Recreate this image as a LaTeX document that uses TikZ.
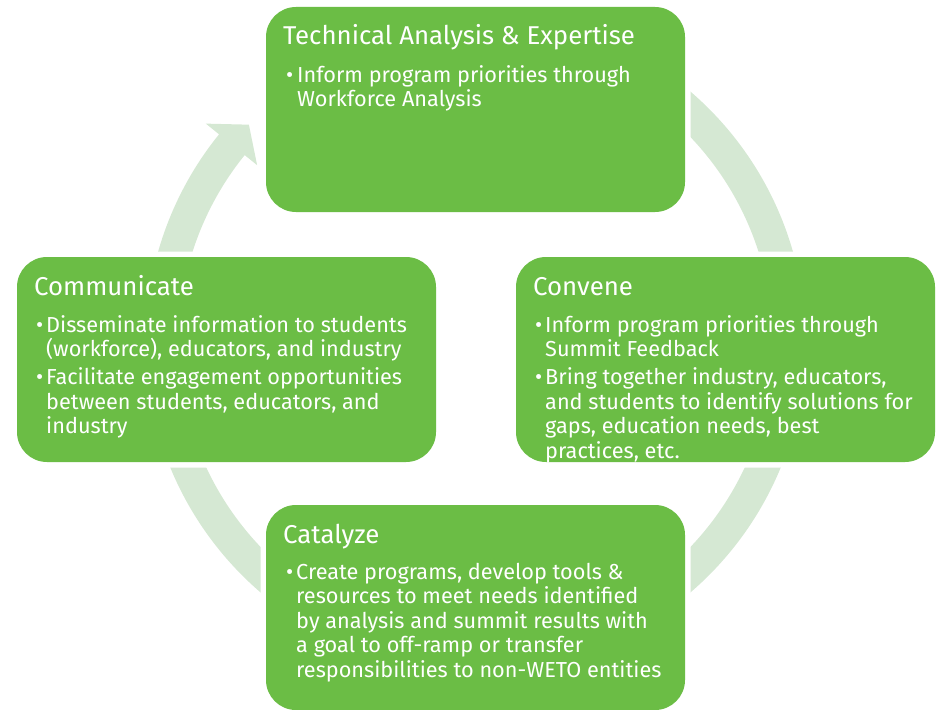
\documentclass[tikz,border=0pt]{standalone}
\usepackage{fontspec}
\setmainfont{Fira Sans}
\definecolor{boxgreen}{RGB}{107,189,69}
\definecolor{ringgreen}{RGB}{213,232,211}
\newcommand{\bodylines}[1]{\parbox[t]{400pt}{\raggedright\fontsize{21.7}{24.5}\selectfont #1}}
\begin{document}
\begin{tikzpicture}[x=1pt,y=-1pt,
  stagebox/.style={rectangle, rounded corners=30pt, fill=boxgreen, minimum width=419pt, minimum height=205pt, anchor=north west, inner sep=0pt, outer sep=0pt, preaction={draw=white, line width=11pt}},
  ring/.style={fill=ringgreen},
  titletext/.style={anchor=base west, inner sep=0pt, text=white, font=\fontsize{25.8}{30}\selectfont},
  bul/.style={anchor=base west, inner sep=0pt, text=white, font=\fontsize{22}{24}\selectfont},
  bodytext/.style={anchor=base west, inner sep=0pt, text=white}]
\useasboundingbox (0,0) rectangle (936,709);
% ring segments
\begin{scope}[shift={(475.5,342)}]
\fill[ring] (180:330pt) arc[start angle=180,end angle=141,radius=330pt] -- (141:347pt) -- (136.2:314pt) -- (141:281pt) -- (141:297pt) arc[start angle=141,end angle=180,radius=297pt] -- cycle;
\fill[ring] (80:330pt) arc[start angle=80,end angle=0,radius=330pt] -- (0:297pt) arc[start angle=0,end angle=80,radius=297pt] -- cycle;
\fill[ring] (180:330pt) arc[start angle=180,end angle=260,radius=330pt] -- (260:297pt) arc[start angle=260,end angle=180,radius=297pt] -- cycle;
\fill[ring] (280:330pt) arc[start angle=280,end angle=360,radius=330pt] -- (360:297pt) arc[start angle=360,end angle=280,radius=297pt] -- cycle;
\end{scope}
% boxes
\node[stagebox] (tech) at (266,7) {};
\node[stagebox] (comm) at (17,257) {};
\node[stagebox] (conv) at (516,257) {};
\node[stagebox] (cat) at (266,505) {};
% top box
\node[titletext] (techT) at (283,45) {Technical Analysis \& Expertise};
\node[bul] (techB1) at (286,82) {•};
\node[bodytext] (techL1) at (297,82) {\bodylines{Inform program priorities through\\Workforce Analysis}};
% left box
\node[titletext] (commT) at (34,295) {Communicate};
\node[bul] (commB1) at (36,332) {•};
\node[bodytext] (commL1) at (46,332) {\bodylines{Disseminate information to students\\(workforce), educators, and industry}};
\node[bul] (commB2) at (36,384.5) {•};
\node[bodytext] (commL2) at (46,384.5) {\bodylines{Facilitate engagement opportunities\\between students, educators, and\\industry}};
% right box
\node[titletext] (convT) at (533,295) {Convene};
\node[bul] (convB1) at (535,332) {•};
\node[bodytext] (convL1) at (545,332) {\bodylines{Inform program priorities through\\Summit Feedback}};
\node[bul] (convB2) at (535,384.5) {•};
\node[bodytext] (convL2) at (545,384.5) {\bodylines{Bring together industry, educators,\\and students to identify solutions for\\gaps, education needs, best\\practices, etc.}};
% bottom box
\node[titletext] (catT) at (283,543) {Catalyze};
\node[bul] (catB1) at (286,579) {•};
\node[bodytext] (catL1) at (296,579) {\bodylines{Create programs, develop tools \&\\resources to meet needs identified\\by analysis and summit results with\\a goal to off-ramp or transfer\\responsibilities to non-WETO entities}};
\end{tikzpicture}
\end{document}
